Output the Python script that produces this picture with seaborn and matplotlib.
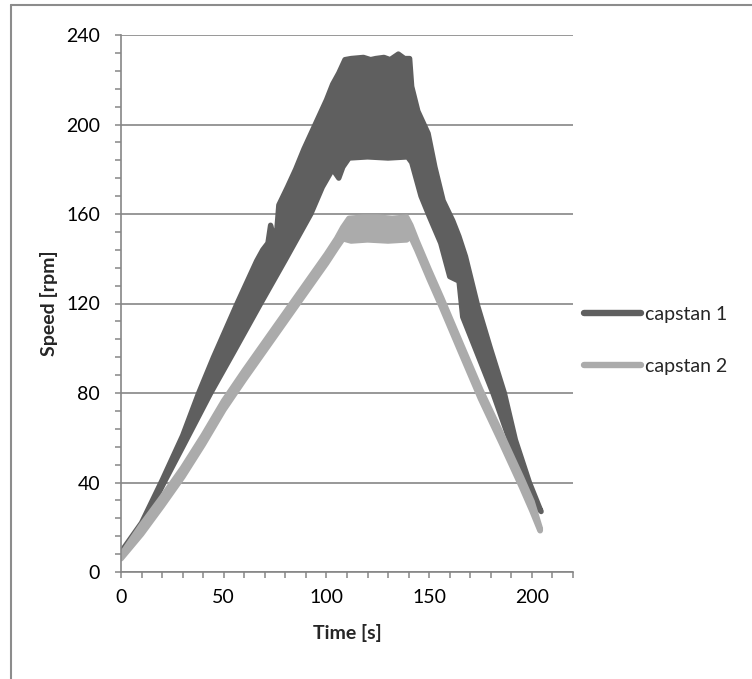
import numpy as np
import pandas as pd
import matplotlib.pyplot as plt
from matplotlib.lines import Line2D
import seaborn as sns

# capstan 1 (dark band): upper and lower edge of the oscillating signal
c1_upper_t = [0, 10, 20, 30, 37.8, 45, 56.5, 62, 66, 69, 71.5, 72.8, 74, 75.5, 76.8, 81, 85, 89,
              93, 97, 100, 103, 106, 109, 112, 118, 121.5, 124, 128, 131, 135, 138, 140.5, 141.5,
              144.5, 149.5, 152.8, 156.8, 161.5, 164.5, 167.7, 173.6, 179.8, 186.6, 192, 198.8, 204.5]
c1_upper_v = [9, 22, 41, 61, 80, 96, 120, 131, 139, 144, 147, 155, 151, 149, 164, 172, 180, 189,
              197, 205, 211, 218, 223, 229, 229.5, 230, 229, 229.5, 230, 229, 231.5, 229.5, 229.5, 217,
              206, 196, 181, 166, 157, 150, 141, 119, 100, 80, 59, 40, 27]
c1_lower_t = [0, 10, 21, 30, 43.7, 55, 68, 80, 92.4, 98, 103, 106, 108, 111, 120, 130, 139.5,
              141.5, 146, 150, 155.6, 160, 164.5, 166.3, 172.8, 181, 190.8, 195.5, 200, 204.5]
c1_lower_v = [8, 20, 40, 55.8, 80, 98.5, 120, 139.5, 160, 172, 180, 176, 181, 185, 185.5, 185, 185.5,
              183, 168, 159, 147, 132, 130, 114, 99, 80, 54.5, 40, 33, 27]

# capstan 2 (light band)
c2_upper_t = [0, 10, 20, 30, 40, 50, 60, 70, 80, 90, 100, 105, 108, 111, 118, 125, 132, 139,
              141, 144, 150, 156, 165, 175, 185, 195, 200, 204]
c2_upper_v = [7.5, 21, 33.5, 46.5, 61, 76.5, 90, 103, 116, 129, 142, 149, 154, 158, 158.5, 158.5, 158, 158.5,
              155, 148, 135, 122.5, 103, 81.5, 62, 42, 31.5, 19.5]
c2_lower_t = [0, 10, 20, 30, 40, 50, 60, 70, 80, 90, 100, 105, 108, 112, 120, 130, 139,
              141, 144, 150, 156, 165, 175, 185, 195, 200, 204]
c2_lower_v = [6, 17, 29.5, 42.5, 57, 72.5, 86, 99, 112, 125, 138, 145, 149, 148, 148.5, 148, 148.5,
              150, 144, 131, 118.5, 99, 77.5, 58, 38, 27.5, 18.5]

series = ['capstan 1', 'capstan 2']
colors = ['#5f5f5f', '#ababab']
widths = [3.8, 4.2]
grey = '#868686'

sns.set_style('white')
plt.rcParams['font.family'] = ['Lato', 'DejaVu Sans']

fig = plt.figure(figsize=(7.52, 6.79), dpi=100)
ax = fig.add_axes([121 / 752, 1 - 572 / 679, 452 / 752, 537 / 679])

bands = {
    'capstan 1': (c1_upper_t, c1_upper_v, c1_lower_t, c1_lower_v),
    'capstan 2': (c2_upper_t, c2_upper_v, c2_lower_t, c2_lower_v),
}

z = 2.0
for name, col, w in zip(series, colors, widths):
    ut, uv, lt, lv = bands[name]
    # closed outline: along the upper edge, back along the lower edge
    path = pd.DataFrame({
        'time': list(ut) + list(lt[::-1]) + [ut[0]],
        'speed': list(uv) + list(lv[::-1]) + [uv[0]],
    })
    ax.fill(path['time'], path['speed'], color=col, lw=0, zorder=z)
    sns.lineplot(data=path, x='time', y='speed', sort=False, estimator=None, color=col,
                 lw=w, solid_joinstyle='round', solid_capstyle='round', legend=False,
                 zorder=z + 0.1, ax=ax)
    z += 0.2

ax.set_xlim(0, 220)
ax.set_ylim(0, 240)
ax.set_xticks(np.arange(0, 201, 50))
ax.set_xticks(np.arange(0, 221, 10), minor=True)
ax.set_yticks(np.arange(0, 241, 40))
ax.set_yticks(np.arange(0, 241, 8), minor=True)

ax.yaxis.grid(True, which='major', color=grey, lw=1.2, zorder=1)
ax.xaxis.grid(False)
ax.set_axisbelow(True)
for s in ['top', 'right']:
    ax.spines[s].set_visible(False)
for s in ['left', 'bottom']:
    ax.spines[s].set_color(grey)
    ax.spines[s].set_linewidth(1.2)

ax.tick_params(which='both', direction='out', length=4, width=1.1, color=grey,
               labelsize=14, labelcolor='black')
ax.tick_params(axis='x', which='both', bottom=True, pad=8.5)
ax.tick_params(axis='y', which='both', left=True, pad=11)

ax.set_xlabel('Time [s]', fontsize=14, fontweight='bold')
ax.set_ylabel('Speed [rpm]', fontsize=14, fontweight='bold')
ax.xaxis.set_label_coords(0.5, -0.097)
ax.yaxis.set_label_coords(-0.139, 0.5)

handles = [Line2D([], [], color=c, lw=4.6, solid_capstyle='round') for c in colors]
ax.legend(handles, series, loc='center left', bbox_to_anchor=(584 / 752, 1 - 340.5 / 679),
          bbox_transform=fig.transFigure, frameon=False, fontsize=14, handlelength=2.95,
          handletextpad=0.2, labelspacing=1.8, borderpad=0, borderaxespad=0)

# chart area border (cropped at right and bottom)
fig.add_artist(Line2D([10.5 / 752, 10.5 / 752], [0, 1 - 4.5 / 679], transform=fig.transFigure,
                      color='#8c8c8c', lw=1.5))
fig.add_artist(Line2D([10.5 / 752, 1], [1 - 4.5 / 679, 1 - 4.5 / 679], transform=fig.transFigure,
                      color='#8c8c8c', lw=1.5))

fig.savefig('out.png', dpi=100)
